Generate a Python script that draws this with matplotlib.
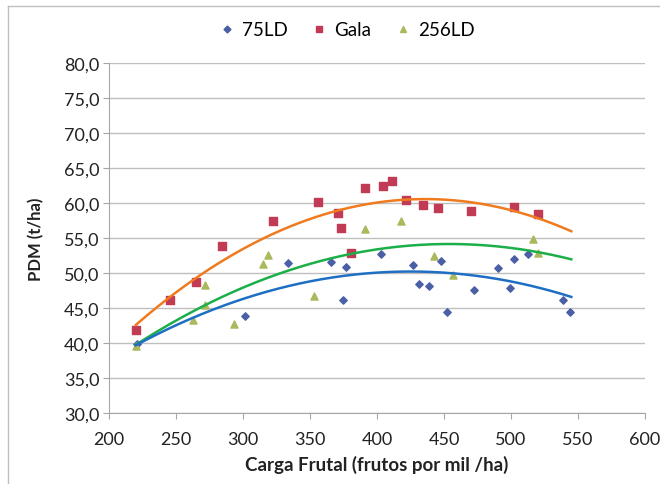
import numpy as np
import matplotlib
matplotlib.use('Agg')
from matplotlib import pyplot as plt
from matplotlib.lines import Line2D

# 75LD
x_75 = [221, 301.5, 333.5, 366, 374.5, 376.5, 402.7, 427, 431.3, 438.8, 447.5, 452,
        472.6, 490.5, 499.3, 502.5, 512.9, 539, 544]
y_75 = [39.8, 43.9, 51.5, 51.6, 46.1, 50.9, 52.8, 51.1, 48.5, 48.1, 51.7, 44.4,
        47.6, 50.7, 47.9, 52.0, 52.8, 46.1, 44.5]

# Gala
x_gala = [220, 245.5, 265, 284.6, 322.6, 356.2, 371.1, 373, 380.8, 391, 404.2, 411,
          422, 434, 445.2, 470.5, 502.5, 520]
y_gala = [41.8, 46.2, 48.7, 53.9, 57.5, 60.1, 58.6, 56.5, 52.9, 62.1, 62.4, 63.2,
          60.4, 59.8, 59.3, 58.9, 59.5, 58.5]

# 256LD
x_256 = [220.5, 262.4, 271.3, 272, 293.5, 314.7, 318.7, 352.8, 391, 417.9, 442.5,
         457, 516.2, 519.9]
y_256 = [39.6, 43.3, 48.3, 45.5, 42.7, 51.3, 52.6, 46.7, 56.3, 57.4, 52.5,
         49.8, 54.9, 52.9]

x_ticks = [200, 250, 300, 350, 400, 450, 500, 550, 600]
y_ticks = [30, 35, 40, 45, 50, 55, 60, 65, 70, 75, 80]

plt.rcParams['font.family'] = ['Lato', 'DejaVu Sans']

fig = plt.figure(figsize=(6.6, 4.85), dpi=100)
ax = fig.add_axes([109/660, 1-414/485, (645-109)/660, (414-64.3)/485])

c_75 = '#4A5FA6'
c_gala = '#C23B55'
c_256 = '#A9B95C'

ax.scatter(x_75, y_75, marker='D', s=14, color=c_75, zorder=3)
ax.scatter(x_gala, y_gala, marker='s', s=34, color=c_gala, zorder=3)
ax.scatter(x_256, y_256, marker='^', s=26, color=c_256, zorder=4)

# polynomial (order 2) trend lines
xt = np.linspace(220, 545, 200)
for xs, ys, col in [(x_gala, y_gala, '#F07A1E'), (x_256, y_256, '#1BAF4A'), (x_75, y_75, '#1E6FC3')]:
    p = np.polyfit(xs, ys, 2)
    ax.plot(xt, np.polyval(p, xt), color=col, lw=1.8, zorder=5)

ax.set_xlim(200, 600)
ax.set_ylim(30, 80)
ax.set_xticks(x_ticks)
ax.set_yticks(y_ticks)
ax.set_yticklabels([('%.1f' % v).replace('.', ',') for v in y_ticks])
ax.grid(axis='y', color='#BFBFBF', lw=1)
ax.set_axisbelow(True)
for s in ['top', 'right']:
    ax.spines[s].set_visible(False)
for s in ['left', 'bottom']:
    ax.spines[s].set_color('#A6A6A6')
ax.tick_params(colors='#A6A6A6', labelcolor='#222222', labelsize=13, length=4)
ax.tick_params(axis='y', pad=3)
ax.tick_params(axis='x', pad=9)
ax.set_xlabel('Carga Frutal (frutos por mil /ha)', fontsize=13.5, fontweight='bold',
              color='#222222', labelpad=6)
ax.set_ylabel('PDM (t/ha)', fontsize=12, fontweight='bold', color='#222222', labelpad=14)

handles = [Line2D([], [], ls='', marker='D', ms=3.5, color=c_75),
           Line2D([], [], ls='', marker='s', ms=5, color=c_gala),
           Line2D([], [], ls='', marker='^', ms=4.5, color=c_256)]
fig.legend(handles, ['75LD', 'Gala', '256LD'], loc='center', bbox_to_anchor=(347/660, 1-31/485),
           ncol=3, frameon=False, fontsize=13.5, handletextpad=0.4, handlelength=0.8,
           columnspacing=1.3)

# chart area border
fig.add_artist(Line2D([8/660, 8/660], [0, 1-7/485], color='#BFBFBF', lw=1))
fig.add_artist(Line2D([8/660, 1], [1-7/485, 1-7/485], color='#BFBFBF', lw=1))

fig.savefig('out.png', dpi=100)
